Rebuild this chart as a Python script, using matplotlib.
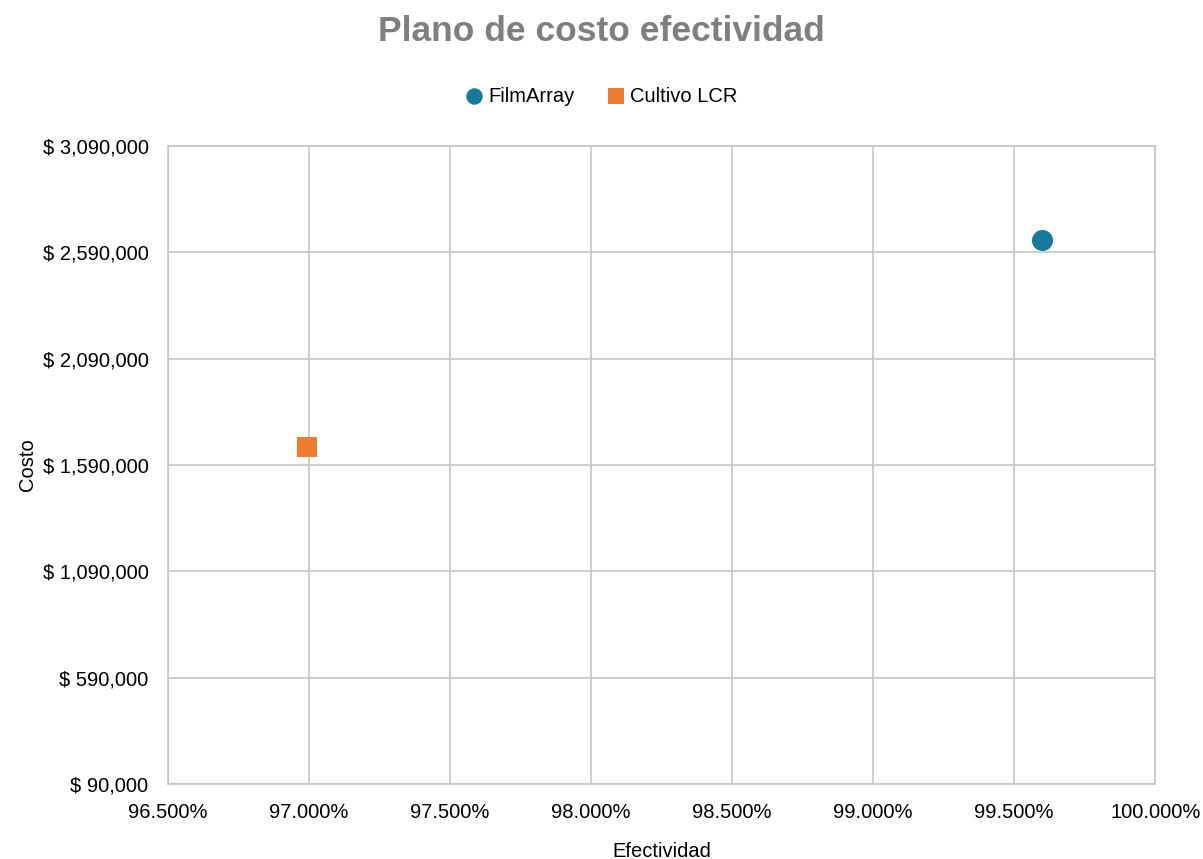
import numpy as np
import matplotlib.pyplot as plt
from matplotlib.ticker import FuncFormatter, FixedLocator, MultipleLocator

plt.rcParams["font.family"] = ["Liberation Sans", "DejaVu Sans"]

series = ["FilmArray", "Cultivo LCR"]
efectividad = [0.99598, 0.96994]
costo = [2646000, 1673000]
colors = ["#157a9c", "#ef7d31"]
markers = ["o", "s"]

y_ticks = [90000, 590000, 1090000, 1590000, 2090000, 2590000, 3090000]

fig = plt.figure(figsize=(12.03, 8.59), dpi=100)
ax = fig.add_axes([0.1397, 0.0873, 0.8206, 0.7427])

for name, x, y, c, m in zip(series, efectividad, costo, colors, markers):
    ax.scatter([x], [y], s=230 if m == "o" else 200, marker=m, color=c,
               label=name, zorder=3, linewidths=0)

ax.set_xlim(0.965, 1.0)
ax.set_ylim(y_ticks[0], y_ticks[-1])
ax.xaxis.set_major_locator(MultipleLocator(0.005))
ax.yaxis.set_major_locator(FixedLocator(y_ticks))
ax.xaxis.set_major_formatter(FuncFormatter(lambda v, p: f"{v * 100:.3f}%"))
ax.yaxis.set_major_formatter(FuncFormatter(lambda v, p: f"$ {v:,.0f}"))

ax.grid(True, color="#c6c6c6", linewidth=1.2)
ax.set_axisbelow(True)
for s in ax.spines.values():
    s.set_color("#c6c6c6")
    s.set_linewidth(1.2)
ax.tick_params(axis="both", length=0, labelsize=14.5, colors="#000000")
ax.tick_params(axis="y", pad=14)
ax.tick_params(axis="x", pad=14)

ax.set_xlabel("Efectividad", fontsize=14.5, labelpad=14)
ax.set_ylabel("Costo", fontsize=14.5, labelpad=4)

fig.suptitle("Plano de costo efectividad", x=0.5, y=0.982, fontsize=25.5,
             fontweight="bold", color="#7f7f7f")
fig.legend(loc="center", bbox_to_anchor=(0.5, 0.888), ncol=2, frameon=False,
           fontsize=14.5, handlelength=0.9, handletextpad=0.25,
           columnspacing=1.6, markerscale=0.78)

fig.savefig("out.png", dpi=100)
